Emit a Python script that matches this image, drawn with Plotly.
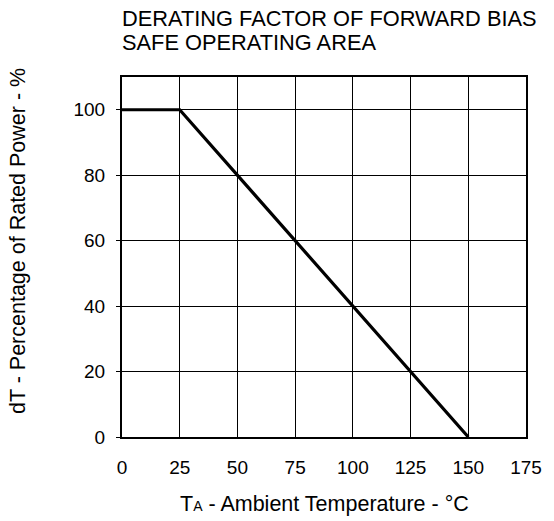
import plotly.graph_objects as go

temp_c = [0, 25, 150]
power_pct = [100, 100, 0]
x_ticks = [0, 25, 50, 75, 100, 125, 150, 175]
y_ticks = [0, 20, 40, 60, 80, 100]

FONT = "Liberation Sans, Arial, sans-serif"
PLOT_TOP, PLOT_H = 77, 360

fig = go.Figure()
fig.add_trace(go.Scatter(x=temp_c, y=power_pct, mode="lines",
                         line=dict(color="black", width=3.2), showlegend=False))

def ypaper(px):
    return (PLOT_TOP + PLOT_H - px) / PLOT_H

fig.update_layout(
    width=554, height=521,
    margin=dict(l=122, r=19, t=77, b=84),
    paper_bgcolor="white", plot_bgcolor="white",
    font=dict(family=FONT, size=19, color="black"),
    xaxis=dict(range=[0, 175], tickvals=x_ticks, showgrid=True, gridcolor="black", gridwidth=1,
               showline=True, linecolor="black", linewidth=2, mirror=True, zeroline=False,
               ticks="", tickfont=dict(size=19), ticklabelstandoff=12),
    yaxis=dict(range=[0, 110], tickvals=y_ticks, showgrid=True, gridcolor="black", gridwidth=1,
               showline=True, linecolor="black", linewidth=2, mirror=True, zeroline=False,
               ticks="outside", ticklen=4, tickcolor="black", tickfont=dict(size=19),
               ticklabelstandoff=7),
    annotations=[
        dict(text="DERATING FACTOR OF FORWARD BIAS", xref="paper", yref="paper",
             x=0, y=ypaper(18.5), xanchor="left", yanchor="middle", align="left", showarrow=False,
             xshift=-2, font=dict(size=21.8)),
        dict(text="SAFE OPERATING AREA", xref="paper", yref="paper",
             x=0, y=ypaper(43), xanchor="left", yanchor="middle", align="left", showarrow=False,
             xshift=-2, font=dict(size=21.8)),
        dict(text="T<span style='font-size:14px'>A</span> - Ambient Temperature - °C", xref="paper", yref="paper",
             x=0.5, y=ypaper(504), xanchor="center", yanchor="middle", showarrow=False, font=dict(size=21.5)),
        dict(text="dT - Percentage of Rated Power - %", xref="paper", yref="paper",
             x=0, y=ypaper(241), xanchor="center", yanchor="middle", xshift=-104, textangle=-90,
             showarrow=False, font=dict(size=21.5)),
    ],
)
fig.write_html("out.html")
